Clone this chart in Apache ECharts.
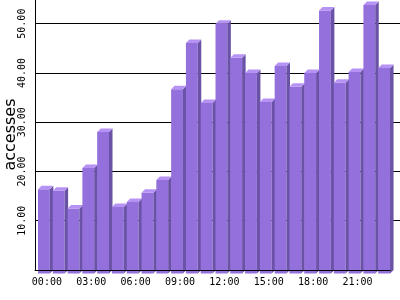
<!DOCTYPE html>
<html>
<head>
<meta charset="utf-8">
<script src="https://cdn.jsdelivr.net/npm/echarts@6/dist/echarts.min.js"></script>
<style>html,body{margin:0;padding:0;background:#fff}#c{width:400px;height:300px}</style>
</head>
<body>
<div id="c"></div>
<script>
const categories = ['00:00','01:00','02:00','03:00','04:00','05:00','06:00','07:00','08:00','09:00','10:00','11:00','12:00','13:00','14:00','15:00','16:00','17:00','18:00','19:00','20:00','21:00','22:00','23:00'];
const accesses = [17.1,16.8,13.2,21.4,28.7,13.5,14.5,16.4,19.0,37.4,46.8,34.6,50.7,43.8,40.7,34.8,42.1,37.9,40.7,53.4,38.7,40.9,54.5,41.7];
const yTicks = [10,20,30,40,50];
const yAxisName = 'accesses';

const chart = echarts.init(document.getElementById('c'), null, {renderer:'canvas'});
const YMAX = 55;
const mono = 'DejaVu Sans Mono';
chart.setOption({
  animation: false,
  grid: [
    {left: 35, right: 0, top: -1, bottom: 30, outerBoundsMode: 'none', containLabel: false},
    {left: 35, right: 10, top: -1, bottom: 30, outerBoundsMode: 'none', containLabel: false}
  ],
  xAxis: [
    {gridIndex: 0, type: 'value', show: false, min: 0, max: 1},
    {gridIndex: 1, type: 'category', data: categories, z: 10,
     axisLine: {show: true, lineStyle: {color: '#000', width: 1}},
     axisTick: {show: false},
     axisLabel: {interval: 2, color: '#000', fontFamily: mono, fontSize: 10, margin: 7, padding: [0,0,0,9]},
     splitLine: {show: false}}
  ],
  yAxis: [
    {gridIndex: 0, type: 'value', min: 0, max: YMAX, interval: 10,
     name: yAxisName, nameLocation: 'middle', nameGap: 16, nameRotate: 90, nameMoveOverlap: false,
     nameTextStyle: {color: '#000', fontFamily: 'DejaVu Sans', fontSize: 16, fontWeight: 'normal'},
     axisLine: {show: true, lineStyle: {color: '#000', width: 1}},
     axisTick: {show: false},
     axisLabel: {rotate: 90, margin: 8, color: '#000', fontFamily: mono, fontSize: 10,
       formatter: v => yTicks.indexOf(v) >= 0 ? v.toFixed(2) : ''},
     splitLine: {show: true, showMaxLine: false, showMinLine: false, lineStyle: {color: '#000', width: 1}}},
    {gridIndex: 1, type: 'value', min: 0, max: YMAX, show: false, splitLine: {show: false}}
  ],
  series: [{
    type: 'custom',
    xAxisIndex: 1, yAxisIndex: 1,
    data: accesses.map((v, i) => [i, v]),
    renderItem: function (params, api) {
      const base = api.coord([api.value(0), 0]);
      const top = api.coord([api.value(0), api.value(1)]);
      const sw = api.size([1, 0])[0];
      const d = 3.5;
      const x0 = base[0] - sw / 2 + 3;
      const fw = sw * 0.8;
      const yt = top[1], yb = base[1];
      return {type: 'group', children: [
        {type: 'rect', shape: {x: x0, y: yt + d, width: fw, height: yb - yt}, style: {fill: '#9370db'}},
        {type: 'polygon', shape: {points: [[x0 + fw, yt + d], [x0 + fw + d, yt], [x0 + fw + d, yb], [x0 + fw, yb + d]]}, style: {fill: '#6a52a6'}},
        {type: 'polygon', shape: {points: [[x0, yt + d], [x0 + d, yt], [x0 + fw + d, yt], [x0 + fw, yt + d]]}, style: {fill: '#b792f5'}}
      ]};
    }
  }]
});
</script>
</body>
</html>
